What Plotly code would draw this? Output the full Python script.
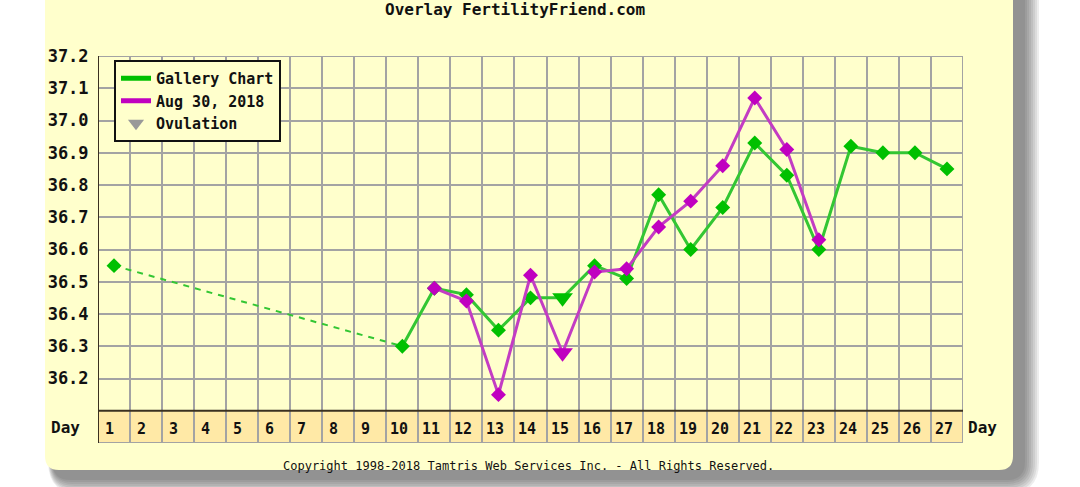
import plotly.graph_objects as go

# ---------------- data ----------------
days = list(range(1, 28))
day_labels = [str(d) for d in days]
y_ticks = [36.2, 36.3, 36.4, 36.5, 36.6, 36.7, 36.8, 36.9, 37.0, 37.1, 37.2]
y_tick_labels = ["36.2", "36.3", "36.4", "36.5", "36.6", "36.7", "36.8", "36.9", "37.0", "37.1", "37.2"]

gallery_name = "Gallery Chart"
gallery_days = [1, 10, 11, 12, 13, 14, 15, 16, 17, 18, 19, 20, 21, 22, 23, 24, 25, 26, 27]
gallery_temps = [36.55, 36.30, 36.48, 36.46, 36.35, 36.45, 36.45, 36.55, 36.51, 36.77,
                 36.60, 36.73, 36.93, 36.83, 36.60, 36.92, 36.90, 36.90, 36.85]

aug_name = "Aug 30, 2018"
aug_days = [11, 12, 13, 14, 15, 16, 17, 18, 19, 20, 21, 22, 23]
aug_temps = [36.48, 36.44, 36.15, 36.52, 36.28, 36.53, 36.54, 36.67, 36.75, 36.86, 37.07, 36.91, 36.63]

ovulation_day = 15

title_text = "Overlay FertilityFriend.com"
copyright_text = "Copyright 1998-2018 Tamtris Web Services Inc. - All Rights Reserved."

# ---------------- style ----------------
PANEL = "#ffffcc"
BAND = "#ffe9a6"
GRID = "#a3a3a3"
DARK = "#3a3020"
GREEN_M, GREEN_L = "#00c000", "#33c633"
MAG_M, MAG_L = "#c000c0", "#c33cc3"
MONO = "DejaVu Sans Mono"

W_FIG, H_FIG = 1080, 487
L, R, T, B = 98, 963, 56, 443
PW, PH = R - L, B - T


def px(x):
    return (x - L) / PW


def py(y):
    return (B - y) / PH


def rounded_path(x0, y0, x1, y1, r):
    pts = [
        ("M", (x0 + r, y0)), ("L", (x1 - r, y0)), ("Q", (x1, y0, x1, y0 + r)),
        ("L", (x1, y1 - r)), ("Q", (x1, y1, x1 - r, y1)), ("L", (x0 + r, y1)),
        ("Q", (x0, y1, x0, y1 - r)), ("L", (x0, y0 + r)), ("Q", (x0, y0, x0 + r, y0)),
    ]
    s = ""
    for cmd, c in pts:
        if len(c) == 2:
            s += f"{cmd} {px(c[0]):.5f},{py(c[1]):.5f} "
        else:
            s += f"{cmd} {px(c[0]):.5f},{py(c[1]):.5f} {px(c[2]):.5f},{py(c[3]):.5f} "
    return s + "Z"


def symbols(xs):
    return ["triangle-down" if d == ovulation_day else "diamond" for d in xs]


def sizes(xs):
    return [18 if d == ovulation_day else 11.5 for d in xs]


fig = go.Figure()

# dashed gap segment for gallery chart (days without data)
fig.add_trace(go.Scatter(
    x=gallery_days[:2], y=gallery_temps[:2], mode="lines",
    line=dict(color=GREEN_L, width=2, dash="6px,6px"),
    showlegend=False, hoverinfo="skip"))
fig.add_trace(go.Scatter(
    x=gallery_days[1:], y=gallery_temps[1:], mode="lines",
    line=dict(color=GREEN_L, width=3), showlegend=False, hoverinfo="skip"))
fig.add_trace(go.Scatter(
    x=gallery_days, y=gallery_temps, mode="markers", name=gallery_name,
    marker=dict(color=GREEN_M, symbol=symbols(gallery_days), size=sizes(gallery_days),
                opacity=1, line=dict(width=0)),
    showlegend=False))
fig.add_trace(go.Scatter(
    x=aug_days, y=aug_temps, mode="lines+markers", name=aug_name,
    line=dict(color=MAG_L, width=3),
    marker=dict(color=MAG_M, symbol=symbols(aug_days), size=sizes(aug_days),
                opacity=1, line=dict(width=0)),
    showlegend=False))

# legend entries
fig.add_trace(go.Scatter(x=[None], y=[None], mode="lines", name=gallery_name,
                         line=dict(color=GREEN_M, width=5)))
fig.add_trace(go.Scatter(x=[None], y=[None], mode="lines", name=aug_name,
                         line=dict(color=MAG_M, width=5)))
fig.add_trace(go.Scatter(x=[None], y=[None], mode="markers", name="Ovulation",
                         marker=dict(color="#999999", symbol="triangle-down", size=14, opacity=1)))

shapes = []
# drop shadow
for i in range(8):
    g = 16 - i * 2
    shapes.append(dict(type="path", xref="paper", yref="paper", layer="below",
                       path=rounded_path(45 + 8 - g * 0.3, -30, 1013 + 10 + g, 470 + 8 + g, 16 + g),
                       fillcolor="rgba(50,50,50,0.09)", line=dict(width=0)))
# panel
shapes.append(dict(type="path", xref="paper", yref="paper", layer="below",
                   path=rounded_path(45, -30, 1013, 470, 14),
                   fillcolor=PANEL, line=dict(width=0)))
# day band
shapes.append(dict(type="rect", xref="x", yref="y", layer="below",
                   x0=0.5, x1=27.5, y0=36.0, y1=36.1, fillcolor=BAND, line=dict(width=0)))
# borders
shapes += [
    dict(type="line", xref="x", yref="y", x0=0.5, x1=27.5, y0=37.2, y1=37.2, line=dict(color=GRID, width=2)),
    dict(type="line", xref="x", yref="y", x0=27.5, x1=27.5, y0=36.0, y1=37.2, line=dict(color=GRID, width=2)),
    dict(type="line", xref="x", yref="y", x0=0.5, x1=27.5, y0=36.0, y1=36.0, line=dict(color=GRID, width=2)),
    dict(type="line", xref="x", yref="y", x0=0.5, x1=27.5, y0=36.1, y1=36.1, line=dict(color=DARK, width=2)),
    dict(type="line", xref="x", yref="y", x0=0.5, x1=0.5, y0=36.0, y1=37.2, line=dict(color=DARK, width=2)),
]

annotations = []
for d, lab in zip(days, day_labels):
    annotations.append(dict(x=d - 0.5, y=36.05, xref="x", yref="y", text=lab, showarrow=False,
                            xanchor="left", yanchor="middle", xshift=5 if len(lab) == 1 else 2, yshift=-2,
                            font=dict(family=MONO, size=15, color="#111", weight="bold")))
annotations += [
    dict(x=px(49), y=36.05, xref="paper", yref="y", text="Day", showarrow=False, xanchor="left",
         yanchor="middle", yshift=-1, font=dict(family=MONO, size=16, color="#111", weight="bold")),
    dict(x=px(966), y=36.05, xref="paper", yref="y", text="Day", showarrow=False, xanchor="left",
         yanchor="middle", yshift=-1, font=dict(family=MONO, size=16, color="#111", weight="bold")),
    dict(x=px(515), y=py(9), xref="paper", yref="paper", text=title_text, showarrow=False,
         xanchor="center", yanchor="middle", font=dict(family=MONO, size=16, color="#111", weight="bold")),
    dict(x=px(528), y=py(466), xref="paper", yref="paper", text=copyright_text, showarrow=False,
         xanchor="center", yanchor="middle", font=dict(family=MONO, size=12, color="#111")),
]

tickfont = dict(family=MONO, size=17, color="#111", weight="bold")
fig.update_layout(
    width=W_FIG, height=H_FIG, autosize=False,
    margin=dict(l=L, r=W_FIG - R, t=T, b=H_FIG - B, pad=0),
    paper_bgcolor="white", plot_bgcolor=PANEL,
    shapes=shapes, annotations=annotations,
    xaxis=dict(range=[0.5, 27.5], tickvals=[d + 0.5 for d in days[:-1]], showticklabels=False,
               showgrid=True, gridcolor=GRID, gridwidth=2, zeroline=False, showline=False, ticks=""),
    yaxis=dict(range=[36.0, 37.2], tickvals=y_ticks, ticktext=y_tick_labels, tickfont=tickfont,
               showgrid=True, gridcolor=GRID, gridwidth=2, zeroline=False, showline=False,
               ticks="outside", ticklen=5, tickcolor="rgba(0,0,0,0)"),
    yaxis2=dict(range=[36.0, 37.2], tickvals=y_ticks, ticktext=y_tick_labels, tickfont=tickfont,
                overlaying="y", side="right", showgrid=False, zeroline=False, showline=False,
                ticks="outside", ticklen=2, tickcolor="rgba(0,0,0,0)"),
    legend=dict(x=px(114), y=py(60), xanchor="left", yanchor="top", bgcolor=PANEL,
                bordercolor="#111", borderwidth=2, font=dict(family=MONO, size=15, color="#111", weight="bold"),
                itemwidth=30, tracegroupgap=0),
    showlegend=True,
)

fig.write_html("out.html", config={"displayModeBar": False},
               post_script="document.body.style.margin='0px';document.body.style.padding='0px';")
